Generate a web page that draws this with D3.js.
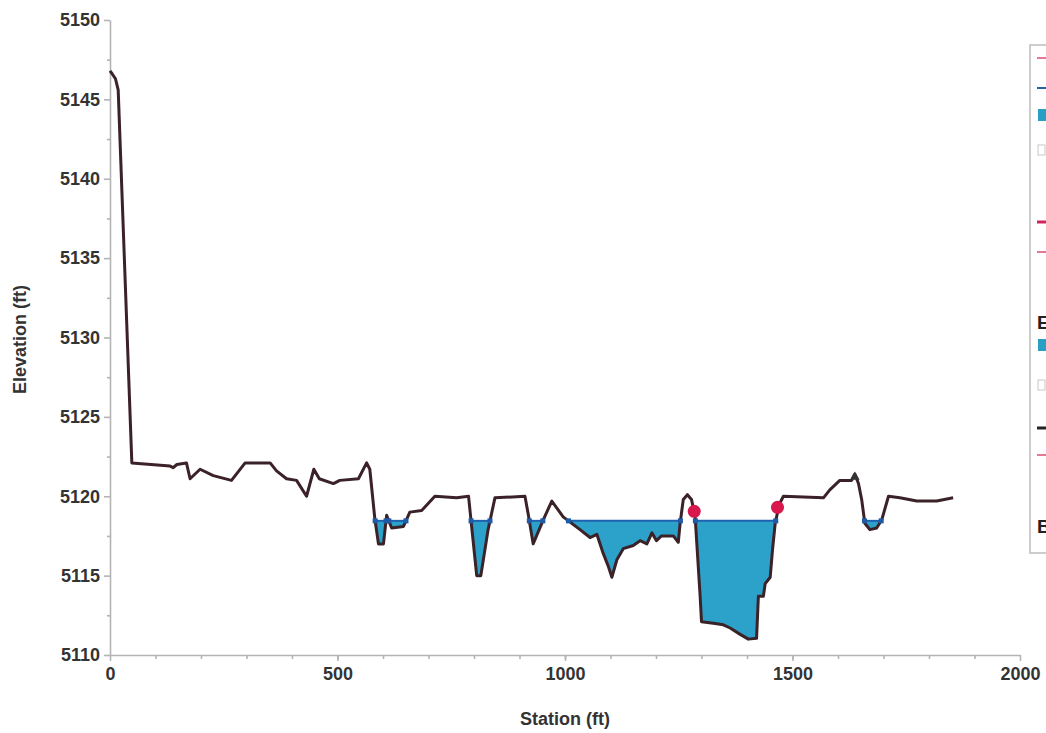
<!DOCTYPE html>
<html>
<head>
<meta charset="utf-8">
<script src="https://cdn.jsdelivr.net/npm/d3@7"></script>
<style>
  body {margin: 0; background: #fff; font-family: "Liberation Sans", Arial, sans-serif;}
  .ground {fill: none; stroke: #3b2228; stroke-width: 3px; stroke-linejoin: round;}
  .wet {fill: #2ca2cb; stroke: none;}
  .ws {fill: none; stroke: #1f62ae; stroke-width: 2px;}
  .axis path, .axis line {stroke: #b4b4b4; stroke-width: 1.6px;}
  .axis text {fill: #333; font-size: 18px; font-weight: bold;}
  .title {fill: #333; font-size: 18px; font-weight: bold;}
</style>
</head>
<body>
<script>
(function (window, document) {

  'use strict';

  // ground profile
  var stations = [0, 5, 12, 18, 48, 132, 139, 147, 168, 176, 198, 227, 267, 297, 352, 366, 388, 410, 432, 448,
    460, 491, 505, 546, 564, 571, 582, 590, 601, 608, 619, 645, 659, 685, 714, 762, 788, 798, 806, 815,
    831, 846, 912, 919, 930, 952, 971, 996, 1033, 1055, 1070, 1084, 1095, 1103, 1114, 1128, 1150, 1165, 1180, 1191,
    1201, 1212, 1238, 1249, 1253, 1260, 1269, 1278, 1286, 1297, 1300, 1326, 1348, 1363, 1385, 1403, 1421, 1425, 1436, 1440,
    1451, 1456, 1462, 1471, 1480, 1568, 1582, 1604, 1630, 1637, 1645, 1652, 1659, 1670, 1685, 1696, 1711, 1736, 1773, 1817, 1853];
  var elevations = [5146.8, 5146.6, 5146.3, 5145.6, 5122.1, 5121.9, 5121.8, 5122.0, 5122.1, 5121.1, 5121.7, 5121.3, 5121.0, 5122.1, 5122.1, 5121.6, 5121.1, 5121.0, 5120.0, 5121.7,
    5121.1, 5120.8, 5121.0, 5121.1, 5122.1, 5121.7, 5118.6, 5117.0, 5117.0, 5118.8, 5118.0, 5118.1, 5119.0, 5119.1, 5120.0, 5119.9, 5120.0, 5117.2, 5115.0, 5115.0,
    5117.9, 5119.9, 5120.0, 5118.9, 5117.0, 5118.5, 5119.7, 5118.7, 5117.9, 5117.4, 5117.6, 5116.4, 5115.6, 5114.9, 5116.0, 5116.7, 5116.9, 5117.2, 5117.0, 5117.7,
    5117.2, 5117.5, 5117.5, 5117.1, 5118.3, 5119.8, 5120.1, 5119.8, 5118.7, 5113.7, 5112.1, 5112.0, 5111.9, 5111.7, 5111.3, 5111.0, 5111.05, 5113.7, 5113.7, 5114.5,
    5114.9, 5116.6, 5118.3, 5119.5, 5120.0, 5119.9, 5120.4, 5121.0, 5121.0, 5121.4, 5120.8, 5119.8, 5118.3, 5117.9, 5118.0, 5118.5, 5120.0, 5119.9, 5119.7, 5119.7, 5119.9];

  var waterElev = 5118.45;
  var bankStations = [1284, 1467];
  var bankElevs = [5119.05, 5119.3];
  var thalwegMark = [1637, 5121.4];

  var xTicks = [0, 500, 1000, 1500, 2000];
  var yTicks = [5110, 5115, 5120, 5125, 5130, 5135, 5140, 5145, 5150];

  // legend rows (cut off by the right edge in the picture)
  var legendKinds = ['line', 'line', 'rect', 'hatch', 'thick', 'line', 'head', 'rect', 'hatch', 'thick', 'line', 'head'];
  var legendColors = ['#e27a93', '#2d5fa8', '#2a9fc4', '#c8c8c8', '#d0245a', '#e27a93', '#222', '#2a9fc4', '#c8c8c8', '#222', '#e27a93', '#222'];
  var legendHeads = {6: 'E', 11: 'B'};

  var margin = {top: 20, right: 26, bottom: 78, left: 110};
  var W = 1046, H = 733;
  var width = W - margin.left - margin.right;
  var height = H - margin.top - margin.bottom;

  var root = d3.select('body').append('svg')
      .attr('width', W)
      .attr('height', H);

  var svg = root.append('g')
      .attr('transform', `translate(${margin.left}, ${margin.top})`);

  var xScale = d3.scaleLinear().domain([0, 2000]).range([0, width]);
  var yScale = d3.scaleLinear().domain([5110, 5150]).range([height, 0]);

  var data = stations.map(function (s, i) { return {st: s, el: elevations[i]}; });

  // split profile into pieces below the water surface, adding crossings
  var wetParts = [];
  var cur = null;
  for (var i = 0; i < data.length; i++) {
    var d = data[i];
    var below = d.el < waterElev;
    if (i > 0) {
      var p = data[i - 1];
      var pBelow = p.el < waterElev;
      if (below !== pBelow) {
        var t = (waterElev - p.el) / (d.el - p.el);
        var cross = {st: p.st + t * (d.st - p.st), el: waterElev};
        if (below) { cur = [cross]; }
        else { cur.push(cross); wetParts.push(cur); cur = null; }
      }
    }
    if (below && cur) cur.push(d);
  }

  var area = d3.area()
    .x(d => xScale(d.st))
    .y0(yScale(waterElev))
    .y1(d => yScale(d.el));

  svg.selectAll('.wet')
    .data(wetParts)
    .enter().append('path')
    .attr('class', 'wet')
    .attr('d', area);

  svg.selectAll('.ws')
    .data(wetParts)
    .enter().append('line')
    .attr('class', 'ws')
    .attr('x1', d => xScale(d[0].st))
    .attr('x2', d => xScale(d[d.length - 1].st))
    .attr('y1', yScale(waterElev))
    .attr('y2', yScale(waterElev));

  // axes
  var yAxisMinor = d3.axisLeft(yScale).tickValues(d3.range(5112.5, 5150, 5)).tickSize(3).tickFormat('');
  var xAxisMinor = d3.axisBottom(xScale).tickValues(d3.range(100, 2000, 100)).tickSize(4).tickFormat('');

  svg.append('g').attr('class', 'axis').call(yAxisMinor).select('.domain').remove();
  svg.append('g').attr('class', 'axis')
    .attr('transform', 'translate(0,' + height + ')')
    .call(xAxisMinor).select('.domain').remove();

  svg.append('g')
    .attr('class', 'axis')
    .call(d3.axisLeft(yScale).tickValues(yTicks).tickSize(6).tickSizeOuter(0).tickPadding(4).tickFormat(d3.format('d')));

  svg.append('g')
    .attr('class', 'axis')
    .attr('transform', 'translate(0,' + height + ')')
    .call(d3.axisBottom(xScale).tickValues(xTicks).tickSize(6).tickSizeOuter(0).tickPadding(6).tickFormat(d3.format('d')));

  var line = d3.line()
    .x(d => xScale(d.st))
    .y(d => yScale(d.el));

  svg.append('path')
    .data([data])
    .attr('class', 'ground')
    .attr('d', line);

  // water surface end markers
  wetParts.forEach(function (part) {
    [part[0], part[part.length - 1]].forEach(function (d) {
      svg.append('rect')
        .attr('x', xScale(d.st) - 2.5)
        .attr('y', yScale(waterElev) - 2.5)
        .attr('width', 5)
        .attr('height', 5)
        .attr('fill', '#1f5aa6');
    });
  });

  bankStations.forEach(function (s, i) {
    svg.append('circle')
      .attr('cx', xScale(s))
      .attr('cy', yScale(bankElevs[i]))
      .attr('r', 6.5)
      .attr('fill', '#d8174c');
  });

  svg.append('path')
    .attr('d', d3.symbol().type(d3.symbolTriangle).size(40))
    .attr('transform', 'translate(' + xScale(thalwegMark[0]) + ',' + (yScale(thalwegMark[1]) + 3) + ')')
    .attr('fill', '#333');

  // axis titles
  svg.append('text')
    .attr('class', 'title')
    .attr('transform', 'translate(' + (width / 2) + ',' + (height + 70) + ')')
    .style('text-anchor', 'middle')
    .text('Station (ft)');

  svg.append('text')
    .attr('class', 'title')
    .attr('transform', 'translate(' + (-84) + ',' + (height / 2 + 2) + ') rotate(-90)')
    .style('text-anchor', 'middle')
    .text('Elevation (ft)');

  // legend, cut off by the right edge
  var legendY = [58, 88, 115, 150, 222, 252, 322, 345, 385, 428, 455, 526];
  var lg = root.append('g').attr('transform', 'translate(1030,0)');
  lg.append('rect')
    .attr('x', 0).attr('y', 45)
    .attr('width', 200).attr('height', 508)
    .attr('fill', '#fff')
    .attr('stroke', '#bdbdbd')
    .attr('stroke-width', 1.5);

  legendKinds.forEach(function (kind, k) {
    var y = legendY[k], color = legendColors[k];
    if (kind === 'line' || kind === 'thick') {
      lg.append('line')
        .attr('x1', 7).attr('x2', 26)
        .attr('y1', y).attr('y2', y)
        .attr('stroke', color)
        .attr('stroke-width', kind === 'thick' ? 3 : 2);
    } else if (kind === 'rect') {
      lg.append('rect')
        .attr('x', 8).attr('y', y - 6)
        .attr('width', 18).attr('height', 12)
        .attr('fill', color);
    } else if (kind === 'hatch') {
      lg.append('rect')
        .attr('x', 8).attr('y', y - 5)
        .attr('width', 7).attr('height', 10)
        .attr('fill', 'none')
        .attr('stroke', color);
    } else {
      lg.append('text')
        .attr('x', 7)
        .attr('y', y + 7)
        .attr('fill', color)
        .style('font-size', '19px')
        .style('font-weight', 'bold')
        .text(legendHeads[k]);
    }
  });

}(window, window.document));
</script>
</body>
</html>
